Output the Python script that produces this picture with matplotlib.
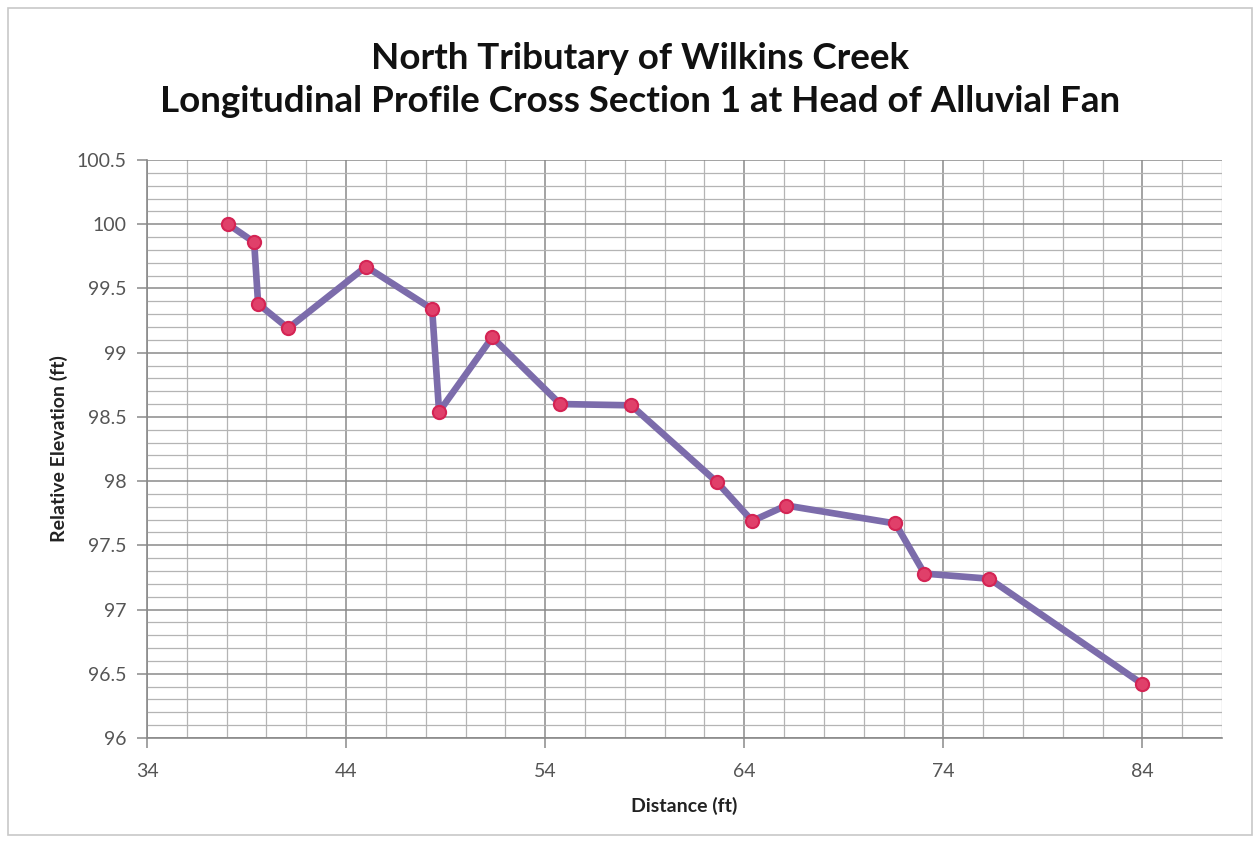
import matplotlib
matplotlib.use("Agg")
import matplotlib.pyplot as plt
from matplotlib.ticker import MultipleLocator, FixedLocator
from matplotlib.patches import Rectangle

# Surveyed profile points along the channel
distance_ft = [38.07, 39.38, 39.58, 41.09, 45.0, 48.32, 48.67, 51.34, 54.75,
               58.32, 62.64, 64.40, 66.11, 71.59, 73.05, 76.31, 84.0]
elevation_ft = [100.0, 99.86, 99.38, 99.19, 99.67, 99.34, 98.54, 99.12, 98.60,
                98.59, 97.99, 97.69, 97.81, 97.67, 97.28, 97.24, 96.42]

x_ticks = [34, 44, 54, 64, 74, 84]
y_ticks = [96, 96.5, 97, 97.5, 98, 98.5, 99, 99.5, 100, 100.5]
y_tick_labels = ["96", "96.5", "97", "97.5", "98", "98.5", "99", "99.5", "100", "100.5"]

title_lines = ["North Tributary of Wilkins Creek",
               "Longitudinal Profile Cross Section 1 at Head of Alluvial Fan"]

plt.rcParams["font.family"] = ["Lato", "DejaVu Sans"]

fig = plt.figure(figsize=(12.6, 8.42), dpi=100)
fig.patch.set_facecolor("white")

# thin frame around the whole chart area
fig.add_artist(Rectangle((0.006, 0.008), 0.988, 0.983, transform=fig.transFigure,
                         fill=False, edgecolor="#c8c8c8", linewidth=1.2))

ax = fig.add_axes([0.1167, 0.1235, 0.8532, 0.6865])
ax.set_xlim(34, 88)
ax.set_ylim(96, 100.5)

ax.xaxis.set_major_locator(FixedLocator(x_ticks))
ax.xaxis.set_minor_locator(MultipleLocator(2))
ax.yaxis.set_major_locator(FixedLocator(y_ticks))
ax.yaxis.set_minor_locator(MultipleLocator(0.1))
ax.set_yticklabels(y_tick_labels)

ax.grid(which="major", color="#8a8a8a", linewidth=1.1)
ax.grid(which="minor", color="#b4b4b4", linewidth=0.9)
ax.set_axisbelow(True)

for side in ("top", "right"):
    ax.spines[side].set_visible(False)
for side in ("left", "bottom"):
    ax.spines[side].set_color("#8a8a8a")
    ax.spines[side].set_linewidth(1.2)

ax.tick_params(which="major", length=7, width=1.1, color="#8a8a8a",
               labelcolor="#555555", labelsize=14)
ax.tick_params(axis="y", which="major", pad=8)
ax.tick_params(axis="x", which="major", pad=11)
ax.tick_params(which="minor", length=0)

ax.plot(distance_ft, elevation_ft, color="#7c6cab", linewidth=4.8,
        solid_joinstyle="round", zorder=3)
ax.plot(distance_ft, elevation_ft, linestyle="none", marker="o", markersize=9.5,
        markerfacecolor="#e0406a", markeredgecolor="#d42454", markeredgewidth=1.5,
        zorder=4)

ax.set_xlabel("Distance (ft)", fontsize=14, fontweight="bold", color="#222222", labelpad=12)
ax.set_ylabel("Relative Elevation (ft)", fontsize=14, fontweight="bold", color="#222222", labelpad=6)

fig.text(0.508, 0.931, title_lines[0], ha="center", va="center",
         fontsize=26.5, fontweight="bold", color="#111111")
fig.text(0.508, 0.880, title_lines[1], ha="center", va="center",
         fontsize=26.5, fontweight="bold", color="#111111")

fig.savefig("out.png", dpi=100, facecolor="white")
